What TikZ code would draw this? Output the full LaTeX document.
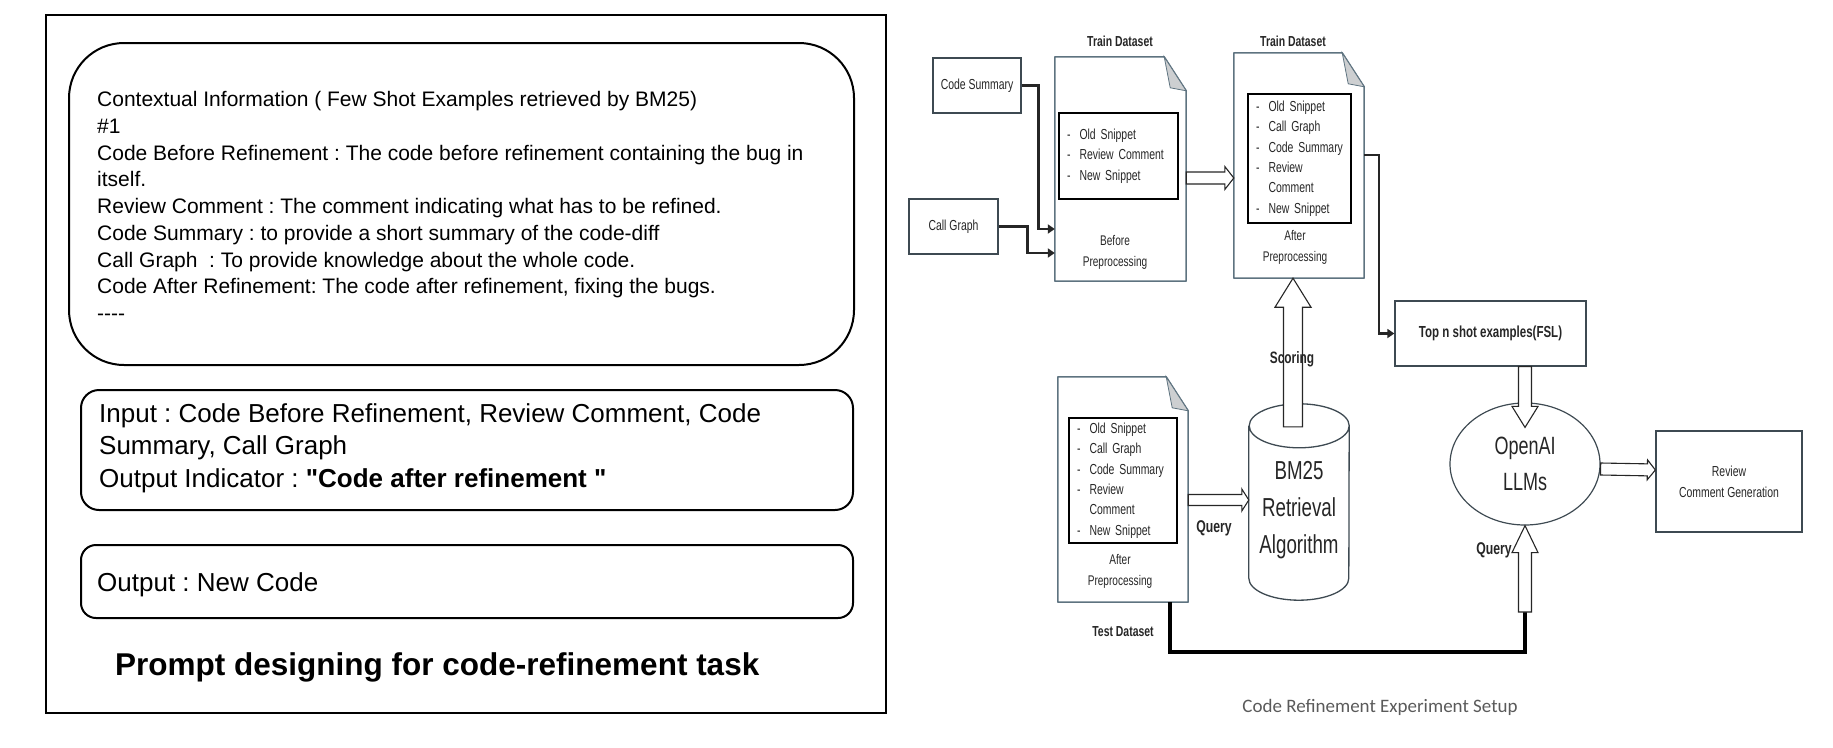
\documentclass[tikz,border=0pt]{standalone}
\usepackage{fontspec}
\setmainfont{Liberation Sans}
\newfontfamily\narrowsf[FakeStretch=0.72]{Liberation Sans}
\newfontfamily\plainsf[Ligatures=TeXOff]{Liberation Sans}
\newfontfamily\capfont{Carlito}
\usetikzlibrary{arrows.meta,calc,shapes.geometric}
\frenchspacing

\definecolor{sheetgray}{HTML}{5E7380}
\definecolor{foldgray}{HTML}{CDCFD1}
\definecolor{boxgray}{HTML}{3E4A52}
\definecolor{inkgray}{HTML}{262626}
\definecolor{capgray}{HTML}{5A5A5A}

\newcommand\fsz[2]{\fontsize{#1}{#2}\selectfont}
\newcommand\itm[1]{\hspace*{4pt}\makebox[12.5pt][l]{-}#1}
\newcommand\cnt[1]{\hspace*{16.5pt}#1}
\newcommand\dq{{\plainsf\bfseries"}}

\tikzset{
	panel/.style={draw, line width=2pt},
	prompt/.style={draw, line width=2pt},
	ptext/.style={anchor=west, align=left, inner sep=0pt},
	srcbox/.style={draw=boxgray, line width=1.3pt, minimum height=55pt, text=inkgray, font=\narrowsf\fsz{14.5}{18}},
	sheet/.style={draw=sheetgray, line width=1.5pt, line join=round},
	fold/.style={fill=foldgray, draw=sheetgray, line width=0.8pt},
	itembox/.style={draw, line width=1.5pt, align=left, inner xsep=4pt, text=inkgray, font=\narrowsf\fsz{14.5}{20.3}},
	note/.style={align=center, text=inkgray, font=\narrowsf\fsz{14}{21}},
	tag/.style={text=inkgray, font=\narrowsf\bfseries\fsz{14.5}{17}},
	feed/.style={draw=inkgray, line width=2.4pt, -{Triangle[length=7pt,width=9pt]}},
	testline/.style={draw=black, line width=3.5pt},
	hollow/.style n args={3}{draw=black!85, fill=white, line width=1.1pt, line join=miter,
		to path={($(\tikztostart)!#1!90:(\tikztotarget)$)
			-- ($($(\tikztotarget)!#3!(\tikztostart)$)!#1!-90:(\tikztostart)$)
			-- ($($(\tikztotarget)!#3!(\tikztostart)$)!#2!-90:(\tikztostart)$)
			-- (\tikztotarget)
			-- ($($(\tikztotarget)!#3!(\tikztostart)$)!#2!90:(\tikztostart)$)
			-- ($($(\tikztotarget)!#3!(\tikztostart)$)!#1!90:(\tikztostart)$)
			-- ($(\tikztostart)!#1!-90:(\tikztotarget)$) -- cycle}},
}

\begin{document}
\begin{tikzpicture}[x=1pt,y=-1pt]
	\useasboundingbox (0,0) rectangle (1833,747);

	% prompt panel
	\draw[panel] (46,15) rectangle (886,713);
	\draw (461.5,204) node [prompt, rounded corners=55pt, minimum width=785pt, minimum height=322pt] (ctx) {};
	\draw (97,206) node [ptext, font=\fsz{21}{26.7}] (ctxtext) {Contextual Information ( Few Shot Examples retrieved by BM25)\\
		\#1\\
		Code Before Refinement : The code before refinement containing the bug in\\
		itself.\\
		Review Comment : The comment indicating what has to be refined.\\
		Code Summary : to provide a short summary of the code-diff\\
		Call Graph~ : To provide knowledge about the whole code.\\
		Code After Refinement: The code after refinement, fixing the bugs.\\
		-{}-{}-{}-};
	\draw (467,450) node [prompt, rounded corners=18pt, minimum width=772pt, minimum height=120pt] (inp) {};
	\draw (99,448) node [ptext, font=\fsz{26}{32.5}] (inptext) {Input : Code Before Refinement, Review Comment, Code\\
		Summary, Call Graph\\
		Output Indicator : \textbf{\dq Code after refinement \dq}};
	\draw (467,581.5) node [prompt, rounded corners=15pt, minimum width=772pt, minimum height=73pt] (outp) {};
	\draw (97,585) node [ptext, font=\fsz{26}{32.5}] (outptext) {Output : New Code};
	\draw (115,667) node [ptext, font=\bfseries\fsz{31.5}{36}] (title) {Prompt designing for code-refinement task};

	% experiment setup
	\draw (977,85.5) node [srcbox, minimum width=88pt] (csum) {Code Summary};
	\draw (953.5,226.5) node [srcbox, minimum width=89pt] (cgraph) {Call Graph};

	\draw (1120.5,169) node [minimum width=131pt, minimum height=224pt, inner sep=0pt] (doc1) {};
	\draw (1299,165.5) node [minimum width=130pt, minimum height=225pt, inner sep=0pt] (doc2) {};
	\draw (1123,489.5) node [minimum width=130pt, minimum height=225pt, inner sep=0pt] (doc3) {};
	\foreach \d in {doc1,doc2,doc3} {
		\draw[sheet] (\d.south west) -- (\d.north west) -- ([xshift=-22pt]\d.north east) -- ([yshift=-34pt]\d.north east) -- (\d.south east) -- cycle;
		\filldraw[fold] ([xshift=-22pt]\d.north east) -- ([yshift=-34pt]\d.north east) -- ([xshift=-16pt,yshift=-31pt]\d.north east) -- cycle;
	}

	\draw (1118.5,156) node [itembox, text width=111pt, minimum height=86pt] (in1) {\itm{Old Snippet}\\\itm{Review Comment}\\\itm{New Snippet}};
	\draw (1299.5,158.5) node [itembox, text width=95pt, minimum height=129pt] (in2) {\itm{Old Snippet}\\\itm{Call Graph}\\\itm{Code Summary}\\\itm{Review}\\\cnt{Comment}\\\itm{New Snippet}};
	\draw (1123,480.5) node [itembox, text width=100pt, minimum height=125pt] (in3) {\itm{Old Snippet}\\\itm{Call Graph}\\\itm{Code Summary}\\\itm{Review}\\\cnt{Comment}\\\itm{New Snippet}};

	\draw (1115,252.5) node [note] (pre1) {Before\\Preprocessing};
	\draw (1295,247.5) node [note] (pre2) {After\\Preprocessing};
	\draw (1120,571.5) node [note] (pre3) {After\\Preprocessing};

	\draw (1299,502) node [minimum width=100pt, minimum height=196pt, inner sep=0pt] (cyl) {};
	\draw[boxgray, line width=1.3pt] ([yshift=-22pt]cyl.north west) -- ([yshift=22pt]cyl.south west)
		arc[start angle=180, end angle=360, x radius=50pt, y radius=22pt] -- ([yshift=-22pt]cyl.north east)
		arc[start angle=0, end angle=180, x radius=50pt, y radius=22pt]
		arc[start angle=180, end angle=360, x radius=50pt, y radius=22pt];
	\draw (1299,510) node [align=center, text=inkgray, font=\narrowsf\fsz{26}{37}] (cyltext) {BM25\\Retrieval\\Algorithm};

	\draw (1490.5,333.5) node [draw=boxgray, line width=1.3pt, minimum width=191pt, minimum height=65pt, text=inkgray, font=\narrowsf\bfseries\fsz{16}{19}] (topn) {Top n shot examples(FSL)};
	\draw (1525,464) node [ellipse, draw=boxgray, line width=1.2pt, minimum width=150pt, minimum height=122pt, align=center, text=inkgray, font=\narrowsf\fsz{25}{36}] (llm) {OpenAI\\LLMs};
	\draw (1729,481.5) node [draw=boxgray, line width=1.3pt, minimum width=146pt, minimum height=101pt, align=center, text=inkgray, font=\narrowsf\fsz{14.5}{21}] (rcg) {Review\\Comment Generation};
	\coordinate (qbase) at (1525,612);

	% connectors
	\draw[feed] (csum.east) -- ++(17,0) |- ([yshift=-60pt]doc1.west);
	\draw[feed] (cgraph.east) -- ++(29,0) |- ([yshift=-84pt]doc1.west);
	\draw[feed] ([yshift=10.5pt]doc2.east) -- ++(15,0) |- (topn.west);
	\draw[testline] ([xshift=47pt]doc3.south) -- ++(0,50) -| (qbase);

	\draw
		([yshift=-9pt]doc1.east) edge [hollow={6pt}{11.5pt}{9pt}] ([yshift=-12.5pt]doc2.west)
		([yshift=-10.5pt]doc3.east) edge [hollow={5.5pt}{11pt}{7pt}] ([yshift=2pt]cyl.west)
		([xshift=-6pt,yshift=-23pt]cyl.north) edge [hollow={9.5pt}{18pt}{29pt}] ([xshift=-6pt]doc2.south)
		([xshift=34.5pt]topn.south) edge [hollow={6.5pt}{13pt}{21pt}] ([yshift=-25pt]llm.north)
		(qbase) edge [hollow={6.5pt}{13pt}{27pt}] (llm.south)
		([yshift=-5pt]llm.east) edge [hollow={6pt}{10pt}{8pt}] ([yshift=11.5pt]rcg.west)
	;

	\draw (1120,41) node [tag] (train1) {Train Dataset};
	\draw (1293,41) node [tag] (train2) {Train Dataset};
	\draw (1123,632) node [tag] (test) {Test Dataset};
	\draw (1292,359) node [tag, font=\narrowsf\bfseries\fsz{16.5}{19}] (score) {Scoring};
	\draw (1214,528) node [tag, font=\narrowsf\bfseries\fsz{17}{20}] (q1) {Query};
	\draw (1494,550) node [tag, font=\narrowsf\bfseries\fsz{17}{20}] (q2) {Query};

	\draw (1380,707) node [text=capgray, font=\capfont\fsz{19}{22}] (setup) {Code Refinement Experiment Setup};
\end{tikzpicture}
\end{document}
